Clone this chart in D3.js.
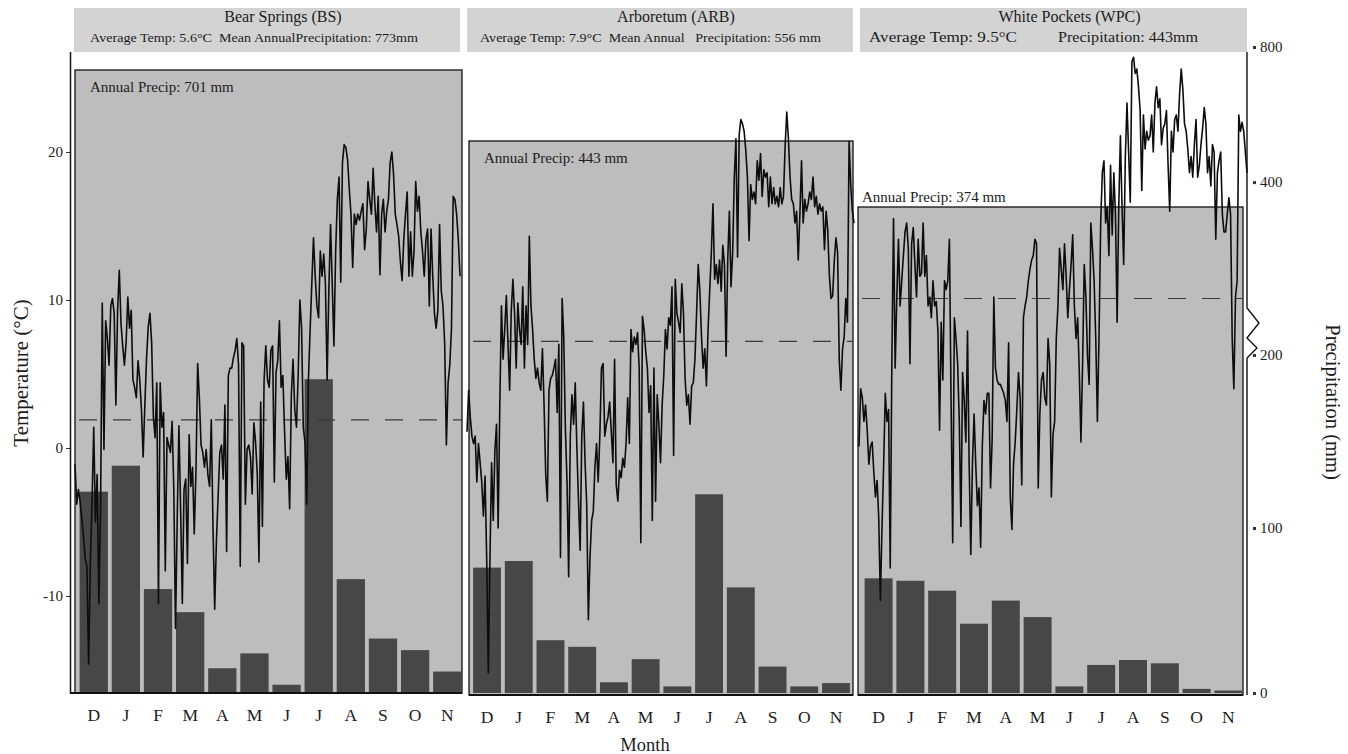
<!DOCTYPE html>
<html>
<head>
<meta charset="utf-8">
<script src="https://cdn.jsdelivr.net/npm/d3@7"></script>
<style>
  body { margin: 0; background: #fff; }
  svg text { font-family: "Liberation Serif", "Times New Roman", serif; fill: #1c1c1c; }
</style>
</head>
<body>
<svg id="chart" width="1348" height="754"></svg>
<script>
// ---- data -------------------------------------------------------------
const months = ["D", "J", "F", "M", "A", "M", "J", "J", "A", "S", "O", "N"];
const siteTitles = ["Bear Springs (BS)", "Arboretum (ARB)", "White Pockets (WPC)"];
const annualPrecip = [701, 443, 374];            // mm, height of the shaded box
const yearMeanTemp = [1.9, 7.2, 10.1];           // °C, dashed reference line
const tempTicks = [20, 10, 0, -10];
const precipTicks = [0, 100, 200, 400, 800];

// monthly precipitation (mm), Dec..Nov
const precipBS  = [121, 136, 63, 49, 15, 24, 5, 186, 69, 33, 26, 13];
const precipARB = [76, 80, 32, 28, 6.5, 20.5, 4, 119.5, 64, 16, 4, 6];
const precipWPC = [69.5, 68, 62, 42, 56, 46, 4, 17, 20, 18, 2.5, 1.5];

// daily mean air temperature (°C), Dec..Nov
const tempBS = [-1.1,-3.8,-2.8,-3.6,-4.8,-6.0,-7.5,-8.0,-14.6,-7.8,-3.6,1.4,-5.0,-1.8,-10.5,-4.1,9.8,-0.1,8.6,7.4,5.6,9.6,10.1,9.1,2.9,9.3,12.0,8.4,6.9,5.6,7.1,10.2,8.1,9.3,4.6,4.1,3.4,5.9,4.6,2.6,-0.6,2.9,6.1,8.2,9.1,7.1,2.1,0.7,4.4,-10.5,4.4,1.4,2.4,-8.3,0.7,0.2,-0.3,1.8,-2.8,-12.2,-4.8,1.5,-4.1,-10.5,-2.8,-2.1,-7.8,0.9,-2.6,-1.3,-5.8,-1.6,5.7,3.4,0.2,-0.3,-1.3,-0.1,-1.8,-2.6,1.9,-5.3,-10.9,-6.3,-3.3,-0.3,0.2,-2.1,2.9,-7.0,4.9,5.4,5.4,6.1,6.6,7.4,5.6,-8.0,7.1,6.9,-3.8,-0.1,0.2,-0.6,-3.1,1.7,0.4,-1.8,-7.7,3.1,-5.3,4.6,6.9,4.6,4.1,6.6,6.9,-2.3,5.1,5.9,8.6,4.1,4.9,1.2,-2.1,-0.6,-4.1,3.6,6.0,2.6,1.4,4.9,10.0,8.1,1.4,0.4,-3.8,4.6,7.9,11.1,14.2,11.6,9.6,8.8,13.3,11.6,13.1,11.1,4.6,10.6,15.1,11.1,6.9,13.3,16.8,18.3,11.2,19.3,20.5,20.3,19.5,17.5,15.8,12.2,15.8,15.1,15.8,15.4,16.0,16.5,13.4,14.8,18.0,16.8,15.8,18.9,16.5,14.6,17.0,11.7,15.8,16.8,14.6,16.0,16.8,19.3,20.0,18.5,15.8,15.1,14.3,12.6,11.3,14.1,15.8,17.3,11.6,14.6,11.6,13.3,18.0,16.0,17.0,14.6,13.3,11.6,14.1,14.8,9.6,14.8,11.6,9.1,8.1,9.3,15.1,10.6,9.6,7.1,0.2,4.4,5.6,8.1,17.0,16.8,15.8,14.1,11.6];
const tempARB = [1.1,3.9,2.1,0.8,0.3,0.8,-2.3,0.3,-1.0,-2.3,-4.6,-1.9,-7.4,-15.2,-7.4,-1.0,-4.9,-0.2,1.6,-5.4,2.9,9.6,6.0,8.0,10.3,7.0,3.9,9.3,11.4,9.1,5.4,9.8,8.0,7.0,10.9,5.4,9.6,7.0,14.3,9.6,8.0,6.0,4.7,5.4,4.4,3.9,6.7,2.9,-1.8,-3.6,3.9,4.7,4.9,5.4,6.0,2.4,7.0,-7.4,10.1,7.5,1.3,-2.3,-8.7,0.8,3.6,1.6,4.4,0.0,-3.6,-6.9,0.8,3.1,-1.0,-3.8,-11.6,-7.4,-4.9,-4.3,-1.3,0.3,-2.3,0.8,5.4,5.7,0.8,1.6,2.1,3.1,1.1,-1.0,6.0,-2.5,-3.6,-1.5,-2.0,-0.7,-1.3,0.3,3.4,0.3,8.0,6.5,7.5,7.0,7.8,5.4,-6.4,8.9,8.0,6.5,5.4,2.4,4.2,-4.9,5.4,-3.6,3.6,1.6,-1.0,2.9,4.9,8.0,6.7,8.8,8.3,10.9,-0.5,11.4,9.1,8.5,7.8,11.1,9.1,4.7,2.9,3.6,1.6,4.2,4.4,6.0,9.1,12.4,10.6,7.5,5.4,6.7,4.2,8.0,10.6,13.2,16.5,11.4,12.4,11.1,12.7,10.6,13.7,12.4,6.2,12.7,16.0,10.9,13.2,18.3,20.9,12.9,21.2,22.2,21.9,21.4,20.1,18.3,14.0,17.8,16.8,17.3,16.5,19.4,18.1,19.9,17.0,18.8,18.3,18.6,16.3,18.3,16.5,17.6,16.5,17.0,16.3,17.6,16.5,17.0,20.4,22.7,20.9,18.3,16.8,16.5,15.2,16.0,12.7,15.8,19.4,15.2,16.8,16.0,16.5,17.3,16.8,18.3,16.3,17.0,15.8,16.5,16.0,16.3,13.4,16.0,14.7,11.6,10.1,10.3,12.7,14.2,13.2,6.0,3.9,6.7,7.5,10.1,8.5,20.7,17.8,16.0,15.2];
const tempWPC = [0.1,4.0,3.4,1.8,2.9,1.2,-1.1,0.1,0.4,-1.6,-3.3,-2.2,-4.7,-10.3,-5.3,-1.1,3.7,1.8,2.6,-8.1,6.0,15.5,5.4,10.2,14.1,9.6,11.3,13.0,14.6,15.2,13.5,5.7,13.8,14.9,12.4,10.2,14.1,11.6,11.8,15.2,11.6,13.0,9.6,10.2,8.8,11.3,9.6,9.9,7.9,1.2,8.5,4.6,11.3,10.7,11.3,14.1,3.2,-6.4,8.8,7.4,5.7,1.8,-5.3,5.1,3.2,0.4,7.9,-1.1,-7.2,-1.1,2.3,-1.1,-3.9,-2.7,-6.7,0.1,3.2,2.3,3.7,3.7,-2.7,0.6,10.2,5.4,4.6,4.3,4.3,4.0,3.7,3.2,1.8,7.1,-3.3,-5.5,-1.1,0.4,2.6,5.1,3.4,-2.5,8.8,9.6,10.2,11.3,12.1,12.7,13.0,14.1,13.8,-2.7,2.3,4.6,5.1,3.4,2.9,7.4,5.7,-3.3,0.9,1.8,7.4,9.6,13.5,12.1,10.7,13.8,11.6,8.8,10.7,12.4,14.4,9.6,7.4,8.8,5.1,0.4,5.7,12.4,10.2,6.2,4.3,15.2,13.5,11.3,7.4,1.8,7.6,15.2,18.6,19.4,15.2,16.3,13.0,19.1,14.4,18.6,15.8,8.5,16.3,21.1,16.3,12.4,19.7,23.3,20.0,16.6,26.1,26.4,25.3,25.6,24.4,22.8,17.4,22.5,20.2,21.4,20.8,21.1,22.5,20.0,23.3,24.4,23.0,23.6,20.5,21.6,21.9,22.8,19.1,16.0,21.4,20.0,22.2,22.5,21.4,23.9,25.6,24.2,21.9,21.4,20.2,18.6,19.7,18.3,20.5,22.2,18.3,19.1,20.5,21.6,23.0,21.9,18.6,19.7,17.7,20.5,20.0,14.1,18.6,19.4,20.0,15.8,14.6,14.6,15.8,16.9,15.8,7.4,4.0,10.2,11.3,22.5,21.4,22.0,21.4,20.0,18.6];

const precipSeries = [precipBS, precipARB, precipWPC];
const tempSeries = [tempBS, tempARB, tempWPC];

// header lines: [text, x offset from header box left, textLength]
const subtitleParts = [
  [["Average Temp: 5.6°C  Mean AnnualPrecipitation: 773mm", 16, 328]],
  [["Average Temp: 7.9°C  Mean Annual   Precipitation: 556 mm", 13, 341]],
  [["Average Temp: 9.5°C", 9, 148], ["Precipitation: 443mm", 198, 140]]
];

// ---- layout ------------------------------------------------------------
const panels = [
  { head: [74, 460],  box: [75, 462],  line: [75, 460],  bars: [78, 463],    base: 693, labelAbove: false },
  { head: [467, 853], box: [469, 853], line: [467, 854], bars: [471.5, 851.5], base: 695, labelAbove: false },
  { head: [860, 1247], box: [858, 1243], line: [859, 1247], bars: [863, 1244], base: 695, labelAbove: true }
];

const svg = d3.select("#chart");

const yTemp = d3.scaleLinear().domain([-10, 20]).range([596, 152]);
// broken precipitation axis: piecewise-linear scale
const yPrecip = d3.scaleLinear()
  .domain([0, 100, 200, 374, 443, 701, 800])
  .range([693, 528, 355, 207, 141, 70, 47]);

const headFill = "#d3d3d3";
const boxFill = "#bdbdbd";
const barFill = "#474747";

panels.forEach((p, i) => {
  const g = svg.append("g");

  // header strip
  g.append("rect")
    .attr("x", p.head[0]).attr("y", 8)
    .attr("width", p.head[1] - p.head[0]).attr("height", 44)
    .attr("fill", headFill);
  g.append("text")
    .attr("x", (p.head[0] + p.head[1]) / 2 + 16).attr("y", 22)
    .attr("text-anchor", "middle")
    .style("font-size", "16px")
    .text(siteTitles[i]);
  subtitleParts[i].forEach(([txt, dx, len]) => {
    g.append("text")
      .attr("x", p.head[0] + dx).attr("y", 42)
      .attr("textLength", len).attr("lengthAdjust", "spacingAndGlyphs")
      .style("font-size", i === 2 ? "15px" : "13.5px")
      .style("white-space", "pre")
      .text(txt);
  });

  // annual precipitation box
  const top = yPrecip(annualPrecip[i]);
  g.append("rect")
    .attr("x", p.box[0]).attr("y", top)
    .attr("width", p.box[1] - p.box[0]).attr("height", p.base - top)
    .attr("fill", boxFill).attr("stroke", "#111").attr("stroke-width", 1.3);
  g.append("text")
    .attr("x", p.box[0] + (p.labelAbove ? 4 : 15))
    .attr("y", p.labelAbove ? top - 5 : top + 22)
    .style("font-size", "15px")
    .text(`Annual Precip: ${annualPrecip[i]} mm`);

  // monthly precipitation bars
  const x = d3.scaleBand().domain(d3.range(12)).range(p.bars)
    .paddingInner(0.12).paddingOuter(0.05);
  g.selectAll("rect.bar").data(precipSeries[i]).join("rect")
    .attr("class", "bar")
    .attr("x", (d, k) => x(k)).attr("width", x.bandwidth())
    .attr("y", d => yPrecip(d)).attr("height", d => yPrecip(0) - yPrecip(d))
    .attr("fill", barFill);

  // month labels
  const ax = d3.axisBottom(x).tickSize(0).tickPadding(0).tickFormat(k => months[k]);
  const axG = g.append("g").attr("transform", `translate(0,${p.base + 28})`).call(ax);
  axG.select(".domain").remove();
  axG.selectAll("text").attr("dy", 0).style("font-size", "17.5px")
    .style("font-family", '"Liberation Serif", serif').attr("fill", "#1c1c1c");

  // baseline
  g.append("line")
    .attr("x1", i === 0 ? 71 : p.box[0]).attr("x2", p.box[1])
    .attr("y1", p.base).attr("y2", p.base)
    .attr("stroke", "#111").attr("stroke-width", 2.2);

  // mean temperature (dashed)
  g.append("line")
    .attr("x1", p.box[0] + 4).attr("x2", p.box[1])
    .attr("y1", yTemp(yearMeanTemp[i])).attr("y2", yTemp(yearMeanTemp[i]))
    .attr("stroke", "#3a3a3a").attr("stroke-width", 1.2)
    .attr("stroke-dasharray", "18,16");

  // daily temperature trace
  const t = tempSeries[i];
  const xd = d3.scaleLinear().domain([0, t.length - 1]).range(p.line);
  g.append("path")
    .datum(t)
    .attr("fill", "none").attr("stroke", "#0d0d0d").attr("stroke-width", 1.6)
    .attr("stroke-linejoin", "round")
    .attr("d", d3.line().x((d, k) => xd(k)).y(d => yTemp(d)));
});

// ---- temperature axis (left) ------------------------------------------
const leftAxis = d3.axisLeft(yTemp).tickValues(tempTicks).tickSize(4).tickPadding(3)
  .tickFormat(d => String(d));
const la = svg.append("g").attr("transform", "translate(70,0)").call(leftAxis);
la.select(".domain").remove();
la.selectAll("line").attr("stroke", "#333");
la.selectAll("text").style("font-size", "15px").style("font-family", '"Liberation Serif", serif')
  .attr("fill", "#333");
svg.append("line").attr("x1", 70.5).attr("x2", 70.5).attr("y1", 52).attr("y2", 694)
  .attr("stroke", "#111").attr("stroke-width", 1.5);

// ---- precipitation axis (right, with break) ---------------------------
const rx = 1247;
svg.append("path")
  .attr("d", d3.line()([[rx, 52], [rx, 308], [rx + 12, 323], [rx, 338], [rx + 10, 348], [rx, 358], [rx, 695]]))
  .attr("fill", "none").attr("stroke", "#111").attr("stroke-width", 1.4);
const rightAxis = d3.axisRight(yPrecip).tickValues(precipTicks).tickSize(0).tickPadding(13)
  .tickFormat(d => String(d));
const ra = svg.append("g").attr("transform", `translate(${rx},0)`).call(rightAxis);
ra.select(".domain").remove();
ra.selectAll("text").style("font-size", "15px").style("font-family", '"Liberation Serif", serif')
  .attr("fill", "#333");
ra.selectAll(".tick").append("rect")
  .attr("x", 6).attr("y", -1.5).attr("width", 3).attr("height", 3).attr("fill", "#333");

// ---- axis titles ------------------------------------------------------
svg.append("text")
  .attr("transform", "translate(28,373) rotate(-90)")
  .attr("text-anchor", "middle").style("font-size", "21px")
  .text("Temperature (°C)");
svg.append("text")
  .attr("transform", "translate(1326,402) rotate(90)")
  .attr("text-anchor", "middle").style("font-size", "20.5px")
  .text("Precipitation (mm)");
svg.append("text")
  .attr("x", 645).attr("y", 751)
  .attr("text-anchor", "middle").style("font-size", "18.5px")
  .text("Month");
</script>
</body>
</html>
